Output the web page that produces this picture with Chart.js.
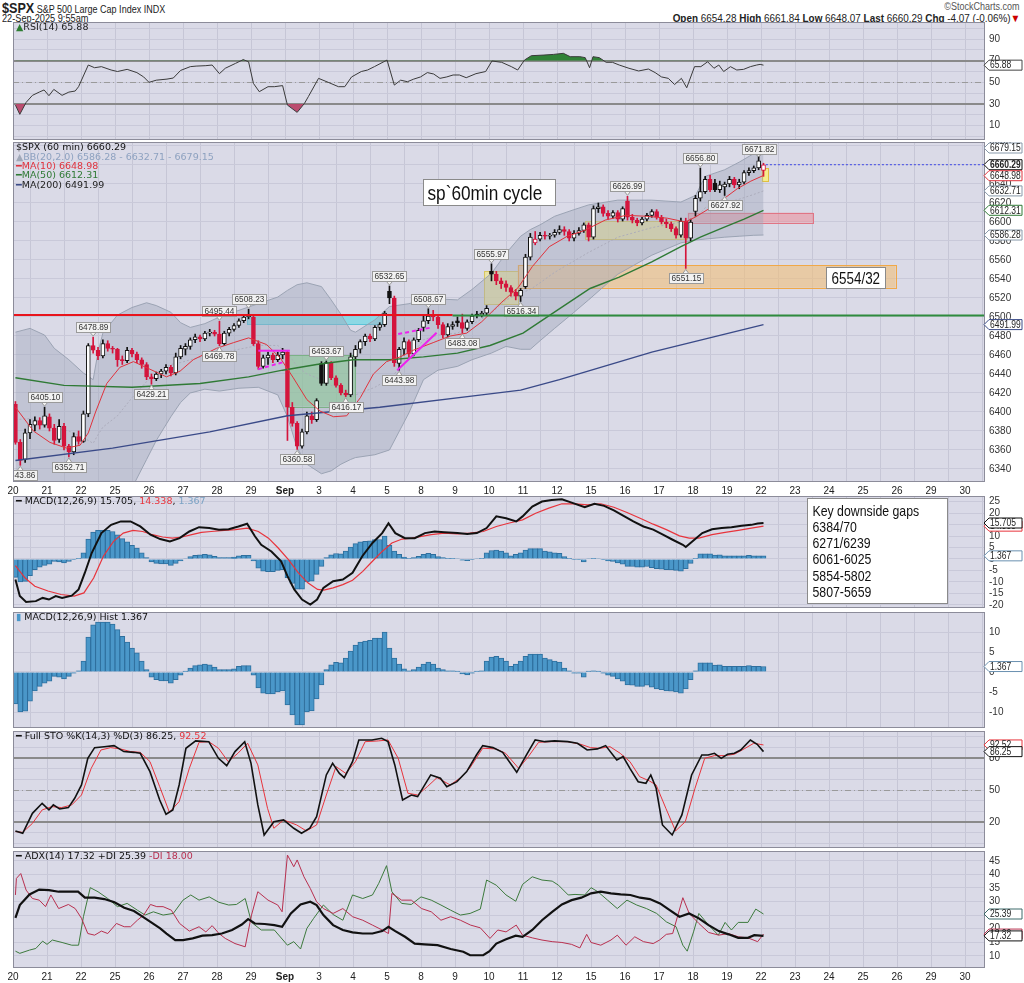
<!DOCTYPE html>
<html>
<head>
<meta charset="utf-8">
<script src="https://cdn.jsdelivr.net/npm/chart.js@4.4.1/dist/chart.umd.min.js"></script>
<style>
html,body{margin:0;padding:0;background:#fff;}
body{width:1024px;height:983px;position:relative;overflow:hidden;}
canvas{position:absolute;left:0;}
.h{position:absolute;white-space:nowrap;font-family:"Liberation Sans",Arial,sans-serif;color:#222;}
.l{transform-origin:0 0;}
.r{transform-origin:100% 0;}
</style>
</head>
<body>
<div class="h l" style="left:2px;top:0px;font-size:10px;transform:scaleX(0.9);"><b style="font-size:14px;">$SPX</b> S&amp;P 500 Large Cap Index INDX</div>
<div class="h l" style="left:2px;top:13px;font-size:10px;transform:scaleX(0.92);">22-Sep-2025 9:55am</div>
<div class="h r" style="right:4px;top:1px;font-size:10px;color:#555;transform:scaleX(0.9);">©StockCharts.com</div>
<div class="h r" style="right:4px;top:12px;font-size:11px;transform:scaleX(0.9);"><b>Open</b> 6654.28 <b>High</b> 6661.84 <b>Low</b> 6648.07 <b>Last</b> 6660.29 <b>Chg</b> -4.07 (-0.06%)<span style="color:#c00">▼</span></div>
<canvas id="cRsi" width="1024" height="118" style="top:22px"></canvas>
<canvas id="cMain" width="1024" height="354" style="top:142px"></canvas>
<canvas id="cMacd" width="1024" height="112" style="top:496px"></canvas>
<canvas id="cHist" width="1024" height="116" style="top:612px"></canvas>
<canvas id="cSto" width="1024" height="117" style="top:731px"></canvas>
<canvas id="cAdx" width="1024" height="131" style="top:851px"></canvas>
<script>
// ---------------- DATA ----------------
const dayLabels = ['20','21','22','25','26','27','28','29','Sep','3','4','5','8','9','10','11','12','15','16','17','18','19','22','23','24','25','26','29','30'];

const opens = [
 6408,6368,6350,6378,6386,6391,6386,
 6395,6383,6371,6385,6364,6358,6374,
 6369,6398,6470,6465,6459,6472,6467,
 6466,6455,6454,6465,6461,6455,6450,
 6437,6435,6440,6443,6447,6441,6458,
 6466,6469,6476,6479,6477,6483,6484,
 6482,6472,6483,6487,6491,6496,6500,
 6500,6472,6448,6457,6460,6455,6460,
 6463,6405,6388,6364,6379,6396,6392,
 6451,6430,6452,6436,6428,6420,6418,
 6458,6466,6474,6480,6477,6489,6492,
 6527,6520,6451,6466,6474,6461,6476,
 6489,6496,6501,6500,6492,6481,6490,
 6496,6494,6488,6495,6503,6502,6504,
 6548,6545,6538,6535,6531,6526,6522,
 6532,6563,6578,6582,6586,6585,6586,
 6589,6592,6590,6583,6588,6591,6597,
 6584,6614,6616,6609,6606,6610,6603,
 6622,6605,6602,6599,6603,6607,6611,
 6605,6600,6598,6593,6586,6601,6583,
 6611,6625,6632,6645,6641,6634,6637,
 6640,6645,6639,6642,6652,6654,6657,
 6654.28];
const highs = [
 6411,6371,6382,6392,6395,6394,6405.10,
 6398,6387,6392,6388,6366,6378,6380,
 6401,6472,6478.89,6468,6476,6475,6469,
 6467,6459,6468,6467,6463,6457,6452,
 6440,6442,6445,6450,6449,6462,6470,
 6472,6478,6482,6481,6485,6487,6486,
 6495.44,6485,6489,6493,6498,6502,6508.23,
 6502,6475,6460,6463,6462,6463,6467,
 6464,6410,6390,6382,6400,6400,6414,
 6453,6453.67,6453,6438,6430,6423,6462,
 6470,6476,6482,6482,6491,6494,6506,
 6532.65,6522,6468,6478,6476,6478,6488,
 6501,6508.67,6507,6502,6494,6493,6495,
 6500,6503,6497,6503,6506,6506,6512,
 6555.97,6548,6541,6538,6533,6529,6530,
 6566,6588,6590,6589,6590,6588,6592,
 6596,6595,6592,6591,6594,6599,6599,
 6617,6620,6618,6612,6612,6612,6616,
 6626.99,6608,6604,6605,6609,6613,6613,
 6607,6603,6600,6595,6604,6604,6603,
 6628,6656.80,6648,6649,6645,6643,6642,
 6648,6647,6645,6654,6657,6659,6671.82,
 6661.84];
const lows = [
 6366,6343.86,6347,6372,6380,6382,6384,
 6380,6366,6368,6360,6352.71,6355,6366,
 6368,6395,6462,6455,6457,6464,6462,
 6448,6450,6452,6458,6452,6446,6434,
 6429.21,6433,6436,6440,6438,6439,6456,
 6460,6466,6473,6474,6475,6480,6480,
 6469.78,6470,6480,6485,6489,6494,6498,
 6470,6445,6446,6450,6452,6453,6456,
 6370,6385,6360.58,6362,6377,6388,6390,
 6428,6428,6434,6426,6418,6416.17,6416,
 6448,6462,6470,6474,6475,6486,6490,
 6514,6448,6443.98,6460,6458,6459,6474,
 6485,6493,6496,6488,6478,6479,6487,
 6490,6483.08,6486,6493,6499,6500,6502,
 6538,6534,6530,6527,6522,6518,6516.34,
 6530,6560,6576,6580,6582,6582,6584,
 6587,6586,6580,6580,6586,6589,6580,
 6582,6610,6606,6603,6604,6600,6601,
 6602,6599,6596,6597,6601,6605,6603,
 6598,6594,6590,6583,6584,6551.15,6580,
 6606,6622,6630,6632,6632,6631,6627.92,
 6637,6636,6635,6640,6649,6652,6655,
 6648.07];
const closes = [
 6368,6349,6378,6387,6391,6386,6396,
 6383,6370,6385,6364,6358,6374,6369,
 6398,6470,6465,6459,6472,6467,6466,
 6455,6454,6465,6461,6455,6450,6437,
 6435,6440,6443,6447,6441,6458,6467,
 6469,6476,6479,6477,6483,6484,6482,
 6472,6483,6487,6491,6496,6500,6502,
 6472,6448,6457,6460,6455,6460,6463,
 6405,6388,6364,6379,6396,6392,6412,
 6430,6452,6436,6428,6420,6418,6458,
 6466,6474,6480,6477,6489,6492,6504,
 6520,6452,6466,6474,6461,6476,6486,
 6496,6501,6500,6492,6481,6490,6492,
 6494,6488,6495,6501,6502,6504,6509,
 6545,6538,6535,6531,6526,6522,6528,
 6563,6584,6582,6586,6585,6586,6589,
 6592,6590,6583,6588,6591,6597,6584,
 6614,6616,6609,6606,6610,6603,6614,
 6605,6602,6599,6603,6607,6611,6605,
 6600,6598,6593,6586,6601,6583,6600,
 6625,6632,6645,6634,6634,6639,6640,
 6645,6639,6642,6652,6654,6657,6664.36,
 6660.29];

const ma10 = [[0,6405],[3.7,6380],[7.1,6368],[10.5,6362],[13.3,6365],[15,6378],[16.5,6400],[18.8,6430],[21.5,6447],[24.3,6453],[27.7,6445],[31.1,6437],[33.9,6443],[36.6,6455],[41.4,6467],[44.9,6473],[48,6478],[51.7,6471],[54.5,6457],[57.2,6436],[60,6413],[62.7,6401],[65.5,6395],[68.2,6396],[71,6415],[73.7,6440],[76.4,6453],[79.2,6458],[81.9,6465],[86,6473],[89.5,6480],[92.9,6483],[96,6495],[100,6515],[103.5,6531],[106.4,6553],[109.9,6574],[113.6,6585],[117.1,6591],[121.4,6602],[125.7,6607],[130,6606],[134.2,6604],[137.9,6600],[139.9,6605],[142.8,6614],[145.7,6624],[148.6,6635],[151.4,6643],[154,6648.98]];
const ma50 = [[0,6436],[10,6428],[24,6426],[38,6430],[48,6437],[55,6444],[62,6450],[69.5,6455],[77,6455],[84,6458],[91,6462],[97.7,6470],[104.5,6483],[111.5,6507],[118.3,6530],[124.3,6542],[131,6558],[137,6574],[141,6584],[145.7,6594],[150,6603],[154,6612.31]];
const ma200 = [[0,6349],[20,6362],[40,6379],[56,6396],[75,6405],[96,6418],[104,6423],[112,6434],[131,6463],[154,6491.99]];

const bbIdx = [0,3,6,8,11,14,16,17,18,21,24,27,29,32,34,36,39,42,46,50,54,56,58,60,63,65,67,69,70,74,77,81,84,87,91,94,98,101,104,106,108,111,115,118,124,131,137,140,142,146,149,152,154];
const bbUpper = [6484,6488,6481,6467,6455,6441,6434,6463,6483,6502,6510,6515,6512,6505,6494,6489,6493,6500,6507,6514,6521,6528,6534,6536,6532,6518,6503,6486,6484,6497,6511,6514,6518,6519,6518,6529,6546,6567,6585,6592,6597,6606,6613,6618,6623,6623,6621,6628,6648,6655,6663,6672,6679.15];
const bbMid = [6392,6393,6390,6383,6380,6373,6367,6376,6384,6396,6415,6432,6441,6450,6452,6455,6459,6461,6466,6470,6470,6462,6448,6440,6434,6428,6424,6418,6418,6426,6435,6456,6476,6481,6483,6492,6504,6518,6525,6529,6536,6547,6559,6568,6584,6594,6600,6604,6615,6620,6624,6629,6632.71];
const bbLower = [6300,6298,6300,6300,6305,6306,6300,6290,6285,6290,6320,6350,6370,6395,6410,6420,6424,6422,6425,6426,6418,6395,6362,6345,6335,6338,6345,6350,6352,6355,6360,6399,6434,6444,6448,6455,6462,6469,6466,6466,6475,6488,6505,6518,6545,6565,6578,6581,6582,6584,6585,6586,6586.28];

const rsi = [[0,29],[0.9,20.5],[2.2,31.5],[3.5,38],[4.9,41],[5.9,43],[6.9,37.7],[7.9,43.5],[9.6,38],[11,41],[12.3,42],[13,46],[15,66],[16.3,63.5],[17.7,64.5],[19.7,61.4],[21,60],[23,62],[25,59],[26.4,55],[27.5,50],[29,52],[31.2,53],[32.5,54],[34,61],[36,64.5],[37.2,65],[39.2,65.4],[40.5,66],[42,58],[43.2,63],[45.3,67.5],[46.9,71],[48,69],[49,49],[50.2,41.4],[52,46],[53.3,46],[55,47],[56,29],[58,22.3],[59.5,30.6],[60.3,36.8],[62.4,53.7],[64.4,50],[66.5,46],[67.8,46],[69.2,55],[71.2,60],[72.5,61.4],[73.9,64.5],[76.5,70.6],[78,47.5],[79.3,52],[80.7,50.6],[82,53],[83.4,55],[84.8,59],[86.1,57.7],[87.4,53.7],[88.8,55],[90.1,56.8],[91.4,56.8],[92.8,54.3],[94.8,58],[96.8,60],[98.1,69.7],[100.1,68.5],[102.1,64.5],[103.4,61.4],[104.8,70.6],[106.2,74.6],[108.8,75.2],[110.8,75.8],[112.8,76.8],[114.2,73.7],[116.2,73.7],[117.3,72.8],[118.2,63.5],[118.9,73.7],[120.2,72.8],[121.6,68.5],[122.9,68.5],[124.3,66],[126.3,63],[128.3,60.5],[130.3,62.3],[131.7,59],[133,55],[134.4,53.7],[135.7,48],[137.1,53.7],[138.2,45],[139.8,64.5],[141.1,64.5],[142.5,69],[143.8,63],[144.8,66],[145.8,60],[147.2,64.5],[148.5,61.4],[149.9,62],[151.3,64.5],[152.6,66],[153.3,66.6],[154,65.88]];

const macd = [[0,-9],[0.9,-16.2],[2.2,-18.8],[4.2,-18.4],[5.6,-17],[6.9,-17.7],[8.3,-16.2],[9.6,-17],[11.6,-16],[13,-13.3],[14.3,-6],[15.7,2.6],[17.7,11.3],[19.7,14.9],[21.7,16.4],[23.7,16.4],[25.7,14.2],[27.8,10.6],[29.8,8.7],[31.8,7.7],[33.8,9.1],[35.8,12],[37.8,13.9],[39.9,13.5],[41.9,12.8],[43.9,13],[45.9,14.2],[47.7,15.4],[49.3,9.9],[50.6,6.2],[52.7,3.3],[54.7,-1],[56,-7.5],[57.4,-13.3],[59,-17.7],[60.7,-19.9],[62.1,-17.7],[63.4,-12.6],[65.4,-9.7],[67.4,-9],[69.4,-6],[71.4,1.2],[73.5,7],[75.5,11.3],[76.8,15.6],[78.2,11.3],[80.2,9.1],[82.2,9.1],[84.3,11.3],[86.3,12],[88.3,11.7],[91,11.3],[93,10.9],[95,11.3],[97,13.5],[99,18.6],[101,17.8],[103.1,16.4],[104.4,18.6],[106.4,22.9],[108.4,25.1],[110.4,25.8],[112.5,26.1],[114.5,24.6],[117.2,22.6],[119.2,24.1],[121.2,23.2],[123.2,21.2],[125.2,18.8],[127.2,16.4],[129.3,14.2],[131.3,12.8],[133.3,10.6],[135.3,8.4],[137.4,6.2],[138,5.2],[139.4,7.7],[141.4,11.3],[143.4,13],[145.4,13.5],[147.4,13.9],[149.5,14.5],[151.5,14.9],[152.8,15.5],[154,15.705]];
const signal = [[0,-2.9],[2,-8.3],[4,-11.9],[6.7,-14],[9.4,-15.5],[12.1,-16.2],[14.1,-14.8],[16.1,-8.3],[18.1,1.2],[20.2,7.7],[22.2,11.3],[24.2,12.5],[26.2,12],[28.2,10.6],[30.3,9.6],[32.3,9.1],[34.3,9.6],[36.3,10.6],[38.3,11.6],[40.3,12],[43,12.5],[45.3,12.8],[47.7,13.5],[50,12],[52.1,9.1],[54.1,4.8],[56.2,-0.3],[58.2,-6],[60.2,-10.4],[62.2,-13.3],[63.5,-13.6],[65.4,-12.6],[67.4,-11.2],[69.4,-9.3],[71.5,-5.4],[73.5,-1],[75.5,3.3],[77.5,7],[79.6,8.7],[81.6,9.1],[83.6,9.9],[85.6,10.6],[88.3,11.3],[91,11],[93.6,11.3],[96.3,12],[99,14.2],[101.7,15.7],[104.4,17.1],[107.1,20],[109.8,22.2],[112.5,24.1],[115.2,24.1],[117.8,23.6],[120.5,24.1],[123.2,22.6],[125.9,20.3],[128.6,17.8],[131.3,15.2],[134,12.8],[136.7,10.1],[138.7,9.1],[140.7,9.1],[143.4,10.6],[146.1,11.6],[148.8,12.5],[151.5,13.5],[154,14.338]];
const hist = [
 -8,-10,-9.8,-7.3,-4.7,-3.6,-2.8,
 -2.3,-1.1,-1.3,-1.7,-1.1,-0.3,0.3,
 2.7,8.7,11.8,12.5,12.5,12.5,12,
 10.6,8.9,7.5,6,4.8,2.7,0.6,
 -1.3,-1.9,-2.2,-2.2,-2.8,-1.9,-0.8,
 0.2,1,1.6,1.8,2,1.8,1.2,
 0.6,0.6,0.6,0.8,1.4,1.6,1.6,
 -0.8,-4,-5.3,-5.5,-5.5,-5,-4.7,
 -8.2,-10.7,-13.2,-13.2,-10,-9.7,-6.7,
 -3.2,0.6,1.8,2.4,2.3,3.5,5.2,
 6.7,7.5,7.7,7.9,8.5,8.5,10,
 6,3.5,2,0.8,0.3,0.6,1.2,
 2,2.5,2,1,0.6,0.3,0.3,
 0.2,-0.5,-0.7,-0.3,0.2,0.3,2.7,
 3.7,3.9,3.5,2.7,1.4,2,2.7,
 3.9,4.5,4.5,4.5,3.5,3.1,2.7,
 2.5,1,0.3,-0.3,-0.3,-1.3,0.2,
 0.3,0.2,-0.3,-0.8,-1.1,-1.7,-2.3,
 -3.2,-3.3,-3.6,-3.6,-3.3,-3.8,-4.2,
 -4.4,-4.7,-4.8,-5,-5.3,-4.2,-1.9,
 0.3,2.3,2.3,2.3,1.7,1.8,1.4,
 1.4,1.4,1.4,1.4,1.6,1.4,1.4,
 1.367];

const stoK = [[0,11.9],[1.5,9.7],[3.5,28.4],[5.5,37.8],[6.9,31.6],[7.8,36.3],[9.1,32.5],[10.9,33.8],[12.2,42.5],[13.6,55],[14.9,80],[16.3,90],[18.3,90.9],[20.3,91.9],[22.3,86.3],[24.3,85.6],[25.7,84.7],[27.7,67.5],[29.7,40.9],[31,27.5],[32.4,31.6],[33.7,55],[35.1,89.4],[37.1,96.3],[39.8,95.6],[41.8,80],[43.5,73.1],[45.2,86.3],[47.2,95.6],[48.5,75.3],[49.9,36.3],[51.2,8.1],[53.2,20.6],[55.2,22.2],[57.3,14.4],[58.9,9.7],[60.6,14.4],[62,25.3],[64,64.4],[65.3,75.3],[66.7,65.9],[67.7,61.9],[69.4,76.9],[70.7,97.2],[73.4,97.2],[75.4,98.8],[76.7,95.6],[78.1,73.8],[79.7,40.9],[81.5,45.6],[82.8,44.1],[85.5,64.4],[87.5,61.3],[88.8,53.4],[90.9,58.1],[92.9,67.5],[94.9,83.1],[96.2,91.9],[98.3,90],[100.3,85.6],[103.2,66.9],[105,81.6],[107,97.2],[109,95.6],[111,96.3],[113.7,95.6],[115.7,94.1],[117.7,87.8],[119.8,88.8],[121.5,91.9],[123.8,78.4],[125.1,81.6],[126.5,70.6],[128.2,58.1],[129.8,56.6],[130.8,64.4],[131.9,51.9],[133.2,17.5],[135.2,8.1],[137.2,26.9],[139.2,64.4],[141.3,83.1],[142.6,83.1],[143.9,84.7],[145.3,80],[146.6,83.8],[148,84.7],[149.3,87.8],[151.3,97.2],[152.7,93.1],[154,86.25]];
const stoD = [[0,11.3],[1.5,10.6],[3.5,19],[5.5,31.6],[7.5,34.7],[9.5,33.8],[11.6,36.3],[13.6,45.6],[15.6,70.6],[17.6,87.8],[19.6,90],[21.6,88.8],[23.7,86.3],[25.7,85.6],[27.7,76.9],[29.7,53.4],[31.7,29.4],[33.7,39.4],[35.8,70.6],[37.8,95],[39.8,95.6],[41.8,89.4],[43.8,76.9],[45.8,84.7],[47.8,94.1],[49.9,73.8],[51.9,33.1],[53.2,14.4],[55.2,22.2],[57.9,17.5],[59.9,11.9],[62,17.5],[64,45.6],[66,72.2],[68,65.9],[70,76.9],[72,95.6],[74.7,96.3],[76.7,97.2],[78.8,80],[80.8,47.2],[82.8,45.6],[84.8,53.4],[86.8,61.9],[89.5,55],[91.5,61.3],[93.5,70.6],[96.2,89.4],[98.9,88.8],[100.9,84.7],[103.6,70.6],[105.6,81.6],[107.7,95],[110.3,95.6],[113.7,95.6],[116.4,93.1],[118.4,90],[120.4,89.4],[122.4,90.9],[124.5,84.7],[126.5,76.9],[128.5,62.8],[130.5,58.8],[131.9,55],[133.9,33.1],[135.9,11.9],[137.9,20.6],[139.9,51.9],[141.9,80],[143.9,82.5],[146,82.5],[148,83.8],[150,88.8],[152,94.1],[154,92.52]];

const adx = [[0,24],[0.9,28.7],[2.9,32.6],[4.9,34.4],[6.9,34.2],[8.9,33.6],[10.9,33.6],[12.9,33.6],[14.3,31.4],[16.3,31.4],[18.3,30.9],[20.4,29.7],[22.4,27.7],[24.4,26.5],[25.7,25],[27.8,22.5],[29.8,20.1],[31.1,18.2],[32.9,15.8],[34.5,15.8],[36.5,16.4],[38.5,17.4],[40.5,17.6],[42.5,18.2],[44.6,19.5],[46.6,21.5],[47.9,23.5],[49.3,21.9],[51.3,21.7],[53.3,21.3],[54.9,20.7],[56.7,25.6],[58.7,28.9],[60.7,29.9],[62,28.7],[63.4,25],[65.4,21.3],[67.4,19.5],[69.4,18.6],[71.5,18.2],[73.5,18.2],[75.5,19.1],[76.8,20.7],[78.2,19.1],[80.2,17],[82.2,14.5],[84.2,14.2],[86.9,13.9],[89.6,12.5],[92.2,11.5],[93.6,10.2],[96.3,10.2],[97.6,11.7],[99,14.5],[101,16.1],[103,17.4],[104.4,17],[106.4,19.5],[108.4,23.1],[110.5,26.2],[112.5,28.9],[114.5,30.5],[116.5,31.4],[118.5,33],[120.5,33.6],[122.6,33],[124.6,32.6],[126.6,32.4],[128.6,31.4],[130.6,30.9],[132.7,29.3],[134.7,26.8],[136.7,24.4],[138.7,25.6],[140.7,23.8],[142.7,21.3],[144.8,19.1],[146.8,17.9],[148.8,16.6],[150.8,16.6],[152.1,17.6],[154,17.32]];
const plusDI = [[0,11.7],[0.9,10.9],[2.9,12.1],[4.2,12.7],[5.6,15.4],[6.5,14.2],[7.6,15.8],[9.6,14.9],[11.6,13.9],[13,13.9],[14,24.4],[15.4,35.1],[17,33.6],[19,31.1],[21,28.1],[23,29.3],[25.1,26.8],[26.7,25],[28.4,26.2],[30.4,25],[32.5,25.6],[34.5,30.5],[36.1,32.4],[37.8,30.5],[39.9,31.7],[41.9,29.7],[43.9,28.7],[45.5,28.9],[47.3,31.1],[48.6,22.3],[50.6,19.5],[53.3,19.5],[56,13.9],[57.3,15.2],[58.7,12.5],[60,20.1],[61.4,23.8],[63.4,28.7],[65.4,25.2],[67.4,23.1],[69.4,32.4],[71.5,31.1],[73.5,32.4],[74.8,36.7],[76.4,43.2],[77.5,33.6],[79.5,29.3],[81.5,28.9],[83.5,31.7],[85.6,30.5],[87.6,28.7],[89.6,26.8],[91.6,25],[93.6,25.6],[95.7,27.2],[97,37.9],[99,36],[101,32.4],[103,30.1],[104.4,36.3],[106.4,39.1],[108.4,37.9],[110.5,37.5],[111.8,36],[113.8,32.4],[115.2,32.6],[117.2,32.4],[118.5,35.1],[119.9,33.6],[121.9,30.5],[123.9,27.4],[125.9,30.5],[127.9,28.7],[129.9,27.4],[132,25.6],[134,22.5],[136,20.7],[137.4,13.9],[138.3,11.7],[139.6,18.8],[140.7,25.6],[142.7,21.3],[144.7,17.6],[146.1,22.3],[147.4,19.5],[148.8,22.3],[150.8,22.3],[152.4,27.2],[154,25.39]];
const minusDI = [[0,32.4],[0.2,38.5],[1.1,40.3],[2.2,34.2],[3.5,31.1],[4.9,30.5],[6.2,28.1],[7.3,32.4],[8.9,27.4],[10.9,28.9],[12.3,27.4],[13.6,23.8],[14.9,18.2],[16.3,17.6],[17.7,19.1],[19,18.2],[20.8,21.9],[22.4,20.7],[23.7,20.7],[25.1,23.1],[26.4,25],[27.8,28.9],[29.1,28.1],[30.4,28.1],[32.1,26.8],[33.8,21.9],[35.8,19.1],[37.8,20.7],[39.2,18.8],[40.5,21.1],[41.9,18.2],[43.2,16.4],[45.2,14.5],[47.3,13.3],[48.6,25],[49.9,33.6],[52,30.5],[54,28.7],[54.9,26.2],[56,47.1],[57.3,42.8],[58,45.3],[59.4,39.1],[60.7,34.8],[62,29.9],[63.4,27.4],[65.4,25.6],[67.4,27.4],[69.4,24.4],[71.5,23.1],[73.5,21.3],[75.5,19.5],[76.8,18.2],[77.5,33],[79.5,30.5],[81.5,30.5],[83.6,27.4],[85.6,26.2],[87.6,23.1],[89.6,24.4],[91.6,23.1],[93.7,21.3],[95.7,20.3],[97.7,16.4],[99.3,19.5],[101,18.8],[103.1,21.3],[104.4,17.6],[106.4,16.6],[108.4,15.8],[110.5,15.2],[112.5,14.9],[114.5,14.2],[116.2,12.9],[117.6,17.9],[118.5,14.9],[120.5,13.9],[122.6,15.8],[123.9,17.6],[125.7,13.9],[127.5,17],[129.3,15.2],[131.3,14.5],[132.6,15.8],[134,17.9],[135.3,18.2],[137.4,31.4],[138.7,25.6],[140.7,21.9],[142.7,18.6],[144.8,17.6],[146.8,18.2],[148.8,17],[150.8,16.6],[152.8,15.2],[154,18]];

const markHighIdx = [6,16,42,48,64,77,85,98,126,141,153];
const markLowIdx = [1,11,28,42,58,68,79,92,104,138,146];
const gapLines = ['Key downside gaps','6384/70','6271/6239','6061-6025','5854-5802','5807-5659'];

// ---------------- STYLE / HELPERS ----------------
const FONT_N = '"Liberation Sans",Arial,sans-serif';
const FONT_L = '"DejaVu Sans","Liberation Sans",sans-serif';
const PLOT_BG = '#dadae7';
const GRID_V = '#c6c6d6';
const GRID_H = '#c9c9d9';
const RED = '#d4143c';
const lastIdx = closes.length - 1;
const XMAX = 199.6;

function pts(arr) { return arr.map(p => ({ x: p[0], y: p[1] })); }
const barIdx = closes.map((_, i) => i);
const candleColor = closes.map((c, i) => (i === 0 ? (c >= opens[i]) : (c >= closes[i - 1])) ? '#111' : RED);
const candleFill = closes.map((c, i) => c < opens[i] ? candleColor[i] : '#ffffff');

function xAxis(showLabels) {
  return {
    type: 'linear', min: -0.5, max: XMAX, offset: false,
    afterBuildTicks: (s) => { s.ticks = dayLabels.map((_, k) => ({ value: k * 7 - 0.5 })); },
    afterFit: (s) => { s.height = showLabels ? 14 : 0; s.paddingLeft = 0; s.paddingRight = 0; s.paddingTop = 0; s.paddingBottom = 0; },
    grid: { color: GRID_V, lineWidth: 1, drawTicks: false },
    border: { display: false },
    ticks: {
      display: showLabels, autoSkip: false, maxRotation: 0, minRotation: 0, padding: 3, color: '#222',
      font: (c) => ({ family: FONT_N, size: 10, weight: (dayLabels[c.index] === 'Sep') ? 'bold' : 'normal' }),
      callback: (v, i) => dayLabels[i]
    }
  };
}
function yAxis(min, max, step, showFn) {
  return {
    position: 'right', min: min, max: max,
    afterFit: (s) => { s.width = 39; s.paddingTop = 0; s.paddingBottom = 0; s.paddingLeft = 0; s.paddingRight = 0; },
    grid: { color: GRID_H, lineWidth: 1, drawTicks: false },
    border: { display: false },
    ticks: {
      stepSize: step, includeBounds: false, autoSkip: false, padding: 4, color: '#333',
      font: { family: FONT_N, size: 10 },
      callback: (v) => showFn(v) ? String(Math.round(v * 1000) / 1000) : ''
    }
  };
}
function baseOptions(scales) {
  return {
    responsive: false, animation: false, events: [],
    layout: { padding: { left: 13, right: 0, top: 0, bottom: 0 }, autoPadding: false },
    plugins: { legend: { display: false }, tooltip: { enabled: false } },
    scales: scales
  };
}
function line(data, color, width, order, extra) {
  return Object.assign({ type: 'line', data: data, borderColor: color, borderWidth: width, pointRadius: 0, fill: false, tension: 0, order: order }, extra || {});
}
function sText(ctx, t, x, y, sx) {
  ctx.save(); ctx.translate(x, y); ctx.scale(sx, 1); ctx.fillText(t, 0, 0); ctx.restore();
}

function drawTag(ctx, a, py, t) {
  const x0 = a.right + 3, w = 34, h = 10;
  ctx.beginPath();
  ctx.moveTo(a.right - 1, py);
  ctx.lineTo(x0 + 1, py - h / 2);
  ctx.lineTo(x0 + w, py - h / 2);
  ctx.lineTo(x0 + w, py + h / 2);
  ctx.lineTo(x0 + 1, py + h / 2);
  ctx.closePath();
  ctx.fillStyle = '#ffffff'; ctx.fill();
  ctx.strokeStyle = t.border; ctx.lineWidth = 1; ctx.stroke();
  ctx.fillStyle = t.color || '#222';
  ctx.font = (t.bold ? 'bold ' : '') + '10px ' + FONT_N;
  ctx.textBaseline = 'middle'; ctx.textAlign = 'left';
  sText(ctx, t.text, x0 + 2, py + 0.5, 0.85);
}

function makeDeco(cfg) {
  return {
    id: 'deco',
    beforeDraw(chart) {
      const ctx = chart.ctx, a = chart.chartArea;
      ctx.save(); ctx.fillStyle = PLOT_BG; ctx.fillRect(a.left, a.top, a.right - a.left, a.bottom - a.top); ctx.restore();
    },
    beforeDatasetsDraw(chart) {
      const ctx = chart.ctx, a = chart.chartArea, x = chart.scales.x, y = chart.scales.y;
      ctx.save(); ctx.beginPath(); ctx.rect(a.left, a.top, a.right - a.left, a.bottom - a.top); ctx.clip();
      (cfg.hlines || []).forEach(h => {
        const py = Math.round(y.getPixelForValue(h.v)) + (h.width % 2 ? 0.5 : 0);
        ctx.beginPath(); ctx.setLineDash(h.dash || []); ctx.strokeStyle = h.color; ctx.lineWidth = h.width;
        ctx.moveTo(a.left, py); ctx.lineTo(a.right, py); ctx.stroke();
      });
      ctx.setLineDash([]);
      (cfg.rects || []).forEach(r => {
        const x0 = x.getPixelForValue(r.x0), x1 = x.getPixelForValue(r.x1);
        const y0 = y.getPixelForValue(r.y1), y1 = y.getPixelForValue(r.y0);
        ctx.fillStyle = r.fill; ctx.fillRect(x0, y0, x1 - x0, y1 - y0);
        ctx.strokeStyle = r.stroke; ctx.lineWidth = 1;
        ctx.strokeRect(Math.round(x0) + 0.5, Math.round(y0) + 0.5, Math.round(x1 - x0), Math.round(y1 - y0));
      });
      ctx.restore();
    },
    afterDatasetsDraw(chart) {
      const ctx = chart.ctx, a = chart.chartArea, x = chart.scales.x, y = chart.scales.y;
      ctx.save(); ctx.beginPath(); ctx.rect(a.left, a.top, a.right - a.left, a.bottom - a.top); ctx.clip();
      // callouts
      ctx.font = '9px ' + FONT_N; ctx.textBaseline = 'middle'; ctx.textAlign = 'left';
      (cfg.callouts || []).forEach(c => {
        const px = x.getPixelForValue(c.i), py = y.getPixelForValue(c.v);
        const tw = ctx.measureText(c.text).width * 0.92;
        const w = Math.round(tw + 4), h = 10;
        let by = c.above ? py - 5 - h : py + 5;
        if (c.above) by = Math.max(by, a.top + 2);
        const bx = Math.round(px - w / 2) + 0.5;
        by = Math.round(by) + 0.5;
        ctx.fillStyle = '#f2f2f2'; ctx.strokeStyle = '#9a9a9a'; ctx.lineWidth = 1;
        ctx.fillRect(bx, by, w, h); ctx.strokeRect(bx, by, w, h);
        ctx.beginPath();
        if (c.above) { ctx.moveTo(px - 3, by + h); ctx.lineTo(px + 3, by + h); ctx.lineTo(px, Math.max(py - 1, by + h + 2)); }
        else { ctx.moveTo(px - 3, by); ctx.lineTo(px + 3, by); ctx.lineTo(px, py + 1); }
        ctx.closePath(); ctx.fillStyle = '#f2f2f2'; ctx.fill(); ctx.strokeStyle = '#9a9a9a'; ctx.stroke();
        ctx.fillStyle = '#333'; sText(ctx, c.text, bx + 2, by + h / 2 + 0.5, 0.92);
      });
      // segments
      (cfg.segs || []).forEach(s => {
        ctx.beginPath(); ctx.setLineDash(s.dash || []); ctx.strokeStyle = s.color; ctx.lineWidth = s.width;
        ctx.moveTo(x.getPixelForValue(s.x0), y.getPixelForValue(s.y0));
        ctx.lineTo(x.getPixelForValue(s.x1), y.getPixelForValue(s.y1));
        ctx.stroke();
      });
      ctx.setLineDash([]);
      // text boxes
      (cfg.boxes || []).forEach(b => {
        const x0 = Math.round(x.getPixelForValue(b.x0)) + 0.5, x1 = Math.round(x.getPixelForValue(b.x1)) + 0.5;
        const y0 = Math.round(y.getPixelForValue(b.y1)) + 0.5, y1 = Math.round(y.getPixelForValue(b.y0)) + 0.5;
        ctx.fillStyle = '#ffffff'; ctx.fillRect(x0, y0, x1 - x0, y1 - y0);
        ctx.strokeStyle = '#8a8a8a'; ctx.lineWidth = 1; ctx.strokeRect(x0, y0, x1 - x0, y1 - y0);
        ctx.fillStyle = '#111'; ctx.font = b.size + 'px ' + FONT_N; ctx.textBaseline = 'alphabetic'; ctx.textAlign = 'left';
        b.lines.forEach((t, k) => sText(ctx, t, x0 + b.padX, y0 + b.firstY + k * b.lineH, b.sx));
      });
      ctx.restore();
      // legend
      ctx.save();
      ctx.textBaseline = 'middle'; ctx.textAlign = 'left';
      (cfg.legend || []).forEach((ln, k) => {
        let px = a.left + 3; const py = a.top + 6 + k * 9.3;
        ln.forEach(seg => {
          ctx.font = '9.5px ' + FONT_L; ctx.fillStyle = seg[1];
          ctx.fillText(seg[0], px, py); px += ctx.measureText(seg[0]).width;
        });
      });
      // border
      ctx.strokeStyle = '#8c8c9a'; ctx.lineWidth = 1;
      ctx.strokeRect(Math.round(a.left) + 0.5, Math.round(a.top) + 0.5, Math.round(a.right - a.left) - 1, Math.round(a.bottom - a.top) - 1);
      // tags
      if (cfg.tags) {
        const list = cfg.tags.map(t => Object.assign({}, t, { py: y.getPixelForValue(t.v) }));
        if (cfg.spread) {
          const s = list.slice().sort((p, q) => p.py - q.py);
          s.forEach((t, k) => {
            if (k === 0) t.py = Math.max(t.py, a.top + 6);
            else t.py = Math.max(t.py, s[k - 1].py + 11);
          });
        }
        list.forEach(t => drawTag(ctx, a, t.py, t));
      }
      ctx.restore();
    }
  };
}

// ---------------- RSI ----------------
new Chart(document.getElementById('cRsi'), {
  type: 'line',
  data: { datasets: [
    line(pts(rsi), '#3a3a3a', 1, 2, { fill: { target: { value: 70 }, above: 'rgba(40,125,45,0.95)', below: 'rgba(0,0,0,0)' } }),
    line(pts(rsi), 'rgba(0,0,0,0)', 0, 3, { fill: { target: { value: 30 }, above: 'rgba(0,0,0,0)', below: 'rgba(185,70,105,0.95)' } })
  ] },
  options: baseOptions({ x: xAxis(false), y: yAxis(-3.2, 105.7, 10, v => [10, 30, 50, 70, 90].includes(v)) }),
  plugins: [makeDeco({
    hlines: [
      { v: 70, color: '#8a8a8a', width: 2 }, { v: 30, color: '#8a8a8a', width: 2 },
      { v: 50, color: '#9a9a9a', width: 1, dash: [6, 3, 1, 3] }
    ],
    legend: [[['▲', '#2e7d32'], ['RSI(14) 65.88', '#222']]],
    tags: [{ v: 65.88, text: '65.88', border: '#444' }]
  })]
});

// ---------------- MAIN PRICE ----------------
const bandPts = (vals) => bbIdx.map((x, k) => ({ x: x, y: vals[k] }));
new Chart(document.getElementById('cMain'), {
  type: 'bar',
  data: { datasets: [
    line(bandPts(bbUpper), 'rgba(150,158,175,0.9)', 1, 20, { fill: '+1', backgroundColor: 'rgba(160,168,185,0.42)' }),
    line(bandPts(bbLower), 'rgba(150,158,175,0.9)', 1, 19),
    line(bandPts(bbMid), 'rgba(170,170,185,0.9)', 1, 18, { borderDash: [2, 2] }),
    line(pts(ma200), '#3a4a88', 1.4, 4),
    line(pts(ma50), '#2f7a35', 1.4, 3),
    { type: 'bar', data: barIdx.map(i => ({ x: i, y: [lows[i], highs[i]] })), backgroundColor: candleColor,
      barThickness: 1, borderWidth: 0, grouped: false, order: 8 },
    { type: 'bar', data: barIdx.map(i => ({ x: i, y: [opens[i], closes[i]] })), backgroundColor: candleFill,
      borderColor: candleColor, borderWidth: 1, borderSkipped: false, barThickness: 4, minBarLength: 1, grouped: false, order: 7 },
    line(pts(ma10), '#e0323c', 1, 2)
  ] },
  options: baseOptions({ x: xAxis(true), y: yAxis(6326.3, 6684.2, 20, v => true) }),
  plugins: [makeDeco({
    rects: [
      { x0: 47.7, x1: 75.5, y0: 6492, y1: 6502, fill: 'rgba(120,215,228,0.8)', stroke: 'rgba(90,195,215,1)' },
      { x0: 55.9, x1: 69.9, y0: 6405.6, y1: 6460, fill: 'rgba(125,222,125,0.6)', stroke: '#62b862' },
      { x0: 96.5, x1: 103.4, y0: 6513.4, y1: 6548.4, fill: 'rgba(242,232,140,0.7)', stroke: '#d9c760' },
      { x0: 117.3, x1: 138.4, y0: 6582, y1: 6601, fill: 'rgba(242,232,140,0.7)', stroke: '#d9c760' },
      { x0: 103.4, x1: 181.2, y0: 6530.8, y1: 6554.7, fill: 'rgba(240,192,125,0.62)', stroke: '#f0a848' },
      { x0: 138.4, x1: 164.2, y0: 6599.3, y1: 6609.8, fill: 'rgba(236,140,152,0.55)', stroke: '#e07585' },
      { x0: 153.6, x1: 154.9, y0: 6642.4, y1: 6656.5, fill: 'rgba(250,240,120,0.85)', stroke: '#e0c040' }
    ],
    callouts: markHighIdx.map(i => ({ i: i, v: highs[i], text: highs[i].toFixed(2), above: true }))
      .concat(markLowIdx.map(i => ({ i: i, v: lows[i], text: lows[i].toFixed(2), above: false }))),
    segs: [
      { x0: -0.5, y0: 6502, x1: 90, y1: 6502, color: '#e8141c', width: 2 },
      { x0: 90, y0: 6501.5, x1: XMAX, y1: 6501.5, color: '#2e8b3e', width: 2 },
      { x0: 50, y0: 6464.5, x1: 56.5, y1: 6464.5, color: '#ee22ee', width: 2 },
      { x0: 50, y0: 6445, x1: 55.5, y1: 6453, color: '#ee22ee', width: 2, dash: [4, 3] },
      { x0: 78.6, y0: 6444, x1: 86.7, y1: 6483.5, color: '#ee22ee', width: 2 },
      { x0: 78.8, y0: 6482, x1: 85.7, y1: 6489, color: '#ee22ee', width: 2, dash: [4, 3] },
      { x0: lastIdx + 0.5, y0: closes[lastIdx], x1: XMAX, y1: closes[lastIdx], color: '#3c46e6', width: 1, dash: [2, 2] }
    ],
    boxes: [
      { x0: 83.9, x1: 111.1, y0: 6617.9, y1: 6645.3, lines: ['sp`60min cycle'], size: 20, sx: 0.86, padX: 4, firstY: 20, lineH: 0 },
      { x0: 166.9, x1: 179.0, y0: 6530.5, y1: 6552.6, lines: ['6554/32'], size: 16, sx: 0.84, padX: 5, firstY: 16, lineH: 0 }
    ],
    legend: [
      [['$SPX (60 min) 6660.29', '#111']],
      [['▲', '#a0a8b8'], ['BB(20,2.0) 6586.28 - 6632.71 - 6679.15', '#8ea2c0']],
      [['━', '#e0323c'], ['MA(10) 6648.98', '#e0323c']],
      [['━', '#2f7a35'], ['MA(50) 6612.31', '#2f7a35']],
      [['━', '#3a4a88'], ['MA(200) 6491.99', '#222']]
    ],
    spread: true,
    tags: [
      { v: 6679.15, text: '6679.15', border: '#8899aa' },
      { v: 6660.29, text: '6660.29', border: '#111', bold: true },
      { v: 6648.98, text: '6648.98', border: '#e0323c' },
      { v: 6632.71, text: '6632.71', border: '#8899aa' },
      { v: 6612.31, text: '6612.31', border: '#2f7a35' },
      { v: 6586.28, text: '6586.28', border: '#8899aa' },
      { v: 6491.99, text: '6491.99', border: '#3a4a88' }
    ]
  })]
});

// ---------------- MACD ----------------
new Chart(document.getElementById('cMacd'), {
  type: 'bar',
  data: { datasets: [
    { type: 'bar', data: barIdx.map(i => ({ x: i, y: hist[i] })), backgroundColor: '#4a97c9', borderColor: '#2e6f9e',
      borderWidth: 1, barThickness: 5, grouped: false, order: 5 },
    line(pts(signal), '#e8343c', 1.2, 2),
    line(pts(macd), '#111', 2, 1)
  ] },
  options: baseOptions({ x: xAxis(false), y: yAxis(-21.4, 27.5, 5, v => v >= -20 && v <= 25) }),
  plugins: [makeDeco({
    boxes: [{ x0: 163, x1: 191.8, y0: -19.2, y1: 26.6, lines: gapLines, size: 15, sx: 0.82, padX: 5, firstY: 17, lineH: 16.3 }],
    legend: [[['━ ', '#111'], ['MACD(12,26,9) 15.705, ', '#111'], ['14.338', '#e8343c'], [', ', '#111'], ['1.367', '#7aa2c4']]],
    tags: [
      { v: 14.338, text: '14.338', border: '#e8343c' },
      { v: 15.705, text: '15.705', border: '#111' },
      { v: 1.367, text: '1.367', border: '#6a90b0' }
    ]
  })]
});

// ---------------- MACD HIST ----------------
new Chart(document.getElementById('cHist'), {
  type: 'bar',
  data: { datasets: [
    { type: 'bar', data: barIdx.map(i => ({ x: i, y: hist[i] })), backgroundColor: '#4a97c9', borderColor: '#2e6f9e',
      borderWidth: 1, barThickness: 5, grouped: false, order: 1 }
  ] },
  options: baseOptions({ x: xAxis(false), y: yAxis(-14, 15, 5, v => Math.abs(v) <= 10) }),
  plugins: [makeDeco({
    legend: [[['▮ ', '#4a97c9'], ['MACD(12,26,9) Hist 1.367', '#111']]],
    tags: [{ v: 1.367, text: '1.367', border: '#6a90b0' }]
  })]
});

// ---------------- STO ----------------
new Chart(document.getElementById('cSto'), {
  type: 'line',
  data: { datasets: [
    line(pts(stoD), '#e8343c', 1, 2),
    line(pts(stoK), '#111', 1.6, 1)
  ] },
  options: baseOptions({ x: xAxis(false), y: yAxis(-4.1, 105.6, 10, v => [20, 50, 80].includes(v)) }),
  plugins: [makeDeco({
    hlines: [
      { v: 80, color: '#8a8a8a', width: 2 }, { v: 20, color: '#8a8a8a', width: 2 },
      { v: 50, color: '#9a9a9a', width: 1, dash: [6, 3, 1, 3] }
    ],
    legend: [[['━ ', '#111'], ['Full STO %K(14,3) %D(3) 86.25, ', '#111'], ['92.52', '#e8343c']]],
    tags: [
      { v: 92.52, text: '92.52', border: '#e8343c' },
      { v: 86.25, text: '86.25', border: '#111' }
    ]
  })]
});

// ---------------- ADX ----------------
new Chart(document.getElementById('cAdx'), {
  type: 'line',
  data: { datasets: [
    line(pts(plusDI), '#3d7a3d', 1, 3),
    line(pts(minusDI), '#b8304f', 1, 2),
    line(pts(adx), '#111', 2.2, 1)
  ] },
  options: baseOptions({ x: xAxis(true), y: yAxis(5.5, 48.6, 5, v => v >= 10 && v <= 45) }),
  plugins: [makeDeco({
    legend: [[['━ ', '#111'], ['ADX(14) 17.32 +DI 25.39 ', '#111'], ['-DI 18.00', '#b8304f']]],
    tags: [
      { v: 25.39, text: '25.39', border: '#3d6a6a' },
      { v: 18.0, text: '18.00', border: '#b8304f' },
      { v: 17.32, text: '17.32', border: '#111' }
    ]
  })]
});
</script>
</body>
</html>
